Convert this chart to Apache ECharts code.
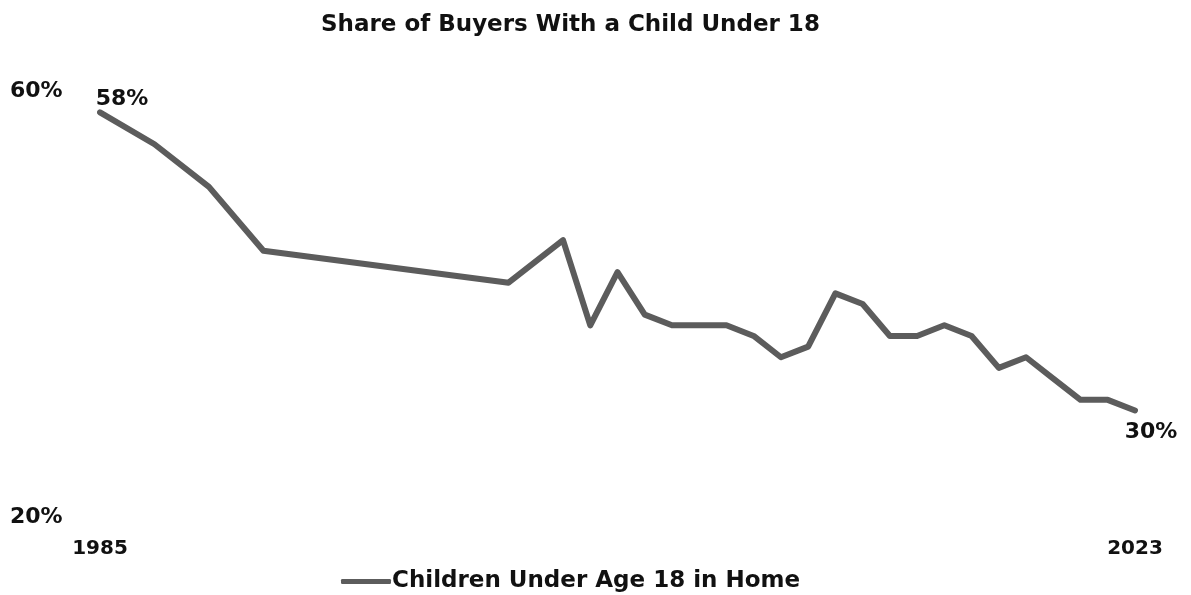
<!DOCTYPE html>
<html>
<head>
<meta charset="utf-8">
<script src="https://cdn.jsdelivr.net/npm/echarts@6/dist/echarts.min.js"></script>
<style>
html,body{margin:0;padding:0;background:#fff;}
#chart{width:1191px;height:595px;}
</style>
</head>
<body>
<div id="chart"></div>
<script>
const titleText = 'Share of Buyers With a Child Under 18';
const seriesName = 'Children Under Age 18 in Home';
const years = [1985, 1987, 1989, 1991, 2000, 2002, 2003, 2004, 2005, 2006, 2007, 2008, 2009, 2010, 2011, 2012, 2013, 2014, 2015, 2016, 2017, 2018, 2019, 2020, 2021, 2022, 2023];
const shares = [58, 55, 51, 45, 42, 46, 38, 43, 39, 38, 38, 38, 37, 35, 36, 41, 40, 37, 37, 38, 37, 34, 35, 33, 31, 31, 30];
const xTickLabels = [1985, 2023];
const yTickLabels = [20, 60];
const labelledYears = [1985, 2023];

const FONT = '"DejaVu Sans", "Noto Sans", sans-serif';
const chart = echarts.init(document.getElementById('chart'), null, {renderer: 'canvas'});

const data = years.map((y, i) => {
  const item = {value: [y, shares[i]]};
  if (labelledYears.includes(y)) {
    const first = i === 0;
    item.label = {
      show: true,
      formatter: shares[i] + '%',
      position: first ? 'top' : 'bottom',
      offset: first ? [22, 3] : [16, 6],
      fontFamily: FONT, fontWeight: 'bold', fontSize: 22, color: '#111'
    };
  }
  return item;
});

chart.setOption({
  backgroundColor: '#fff',
  animation: false,
  title: {
    text: titleText,
    left: 316, top: 9,
    textStyle: {fontFamily: FONT, fontWeight: 'bold', fontSize: 23, color: '#111'}
  },
  legend: {
    data: [seriesName],
    bottom: -3, left: 336,
    icon: 'roundRect',
    itemWidth: 50, itemHeight: 5, itemGap: 4,
    textStyle: {fontFamily: FONT, fontWeight: 'bold', fontSize: 23, color: '#111', padding: [0,0,0,-4]}
  },
  grid: {left: 100, right: 56, top: 91, bottom: 78, containLabel: false},
  xAxis: {
    type: 'value', min: 1985, max: 2023,
    axisLine: {show: false}, axisTick: {show: false}, splitLine: {show: false},
    axisLabel: {
      customValues: xTickLabels,
      margin: 22,
      fontFamily: FONT, fontWeight: 'bold', fontSize: 20, color: '#111',
      formatter: v => String(v)
    }
  },
  yAxis: {
    type: 'value', min: 20, max: 60,
    axisLine: {show: false}, axisTick: {show: false}, splitLine: {show: false},
    axisLabel: {
      customValues: yTickLabels,
      align: 'left', margin: 90,
      fontFamily: FONT, fontWeight: 'bold', fontSize: 22, color: '#111',
      formatter: v => v + '%'
    }
  },
  series: [{
    name: seriesName,
    type: 'line',
    data: data,
    showSymbol: true,
    symbol: 'circle',
    symbolSize: 0,
    lineStyle: {color: '#5c5c5c', width: 6, join: 'round', cap: 'round'},
    itemStyle: {color: '#5c5c5c'}
  }]
});
</script>
</body>
</html>
